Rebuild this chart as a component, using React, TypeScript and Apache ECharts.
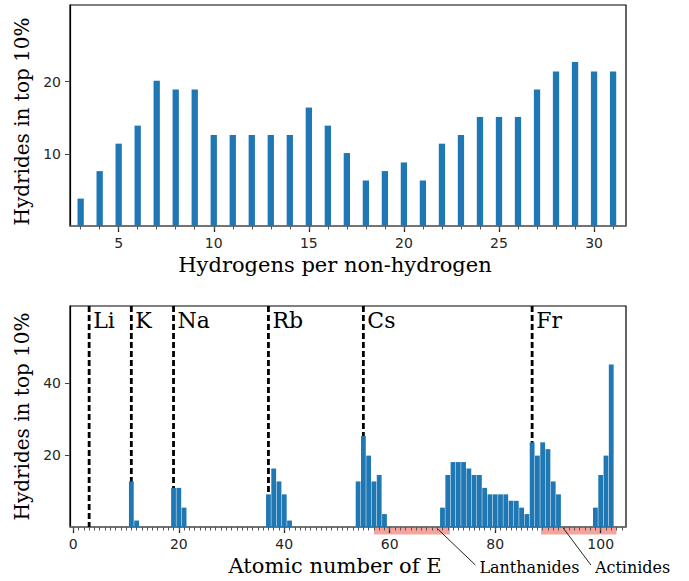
import React, { useEffect, useRef } from "react";
import * as echarts from "echarts";

// ---- Top panel data ----
const H_PER_NONH = [3, 4, 5, 6, 7, 8, 9, 10, 11, 12, 13, 14, 15, 16, 17, 18, 19, 20, 21, 22, 23, 24, 25, 26, 27, 28, 29, 30, 31];
const TOP_PCT = [3.8, 7.6, 11.4, 13.9, 20.1, 18.9, 18.9, 12.6, 12.6, 12.6, 12.6, 12.6, 16.4, 13.9, 10.1, 6.3, 7.6, 8.8, 6.3, 11.4, 12.6, 15.1, 15.1, 15.1, 18.9, 21.4, 22.7, 21.4, 21.4];
const TOP_X_LABELS = [5, 10, 15, 20, 25, 30];
const TOP_Y_LABELS = [10, 20];
const TOP_X_RANGE = [2.44, 31.68];
const TOP_Y_RANGE = [0, 30.6];

// ---- Bottom panel data ----
const ATOMIC_Z = [11, 12, 19, 20, 21, 37, 38, 39, 40, 41, 54, 55, 56, 57, 58, 59, 70, 71, 72, 73, 74, 75, 76, 77, 78, 79, 80, 81, 82, 83, 84, 85, 86, 87, 88, 89, 90, 91, 92, 99, 100, 101, 102];
const BOTTOM_PCT = [12.7, 1.8, 10.9, 10.9, 5.4, 9.1, 16.3, 12.7, 9.1, 1.8, 12.7, 25.4, 19.9, 12.7, 14.5, 3.6, 5.4, 14.5, 18.1, 18.1, 18.1, 16.3, 14.5, 14.5, 10.9, 9.1, 9.1, 9.1, 9.1, 7.3, 7.3, 5.4, 3.6, 23.6, 19.9, 23.6, 21.7, 12.7, 9.1, 5.4, 14.5, 19.9, 45.3];
const BOTTOM_X_LABELS = [0, 20, 40, 60, 80, 100];
const BOTTOM_Y_LABELS = [20, 40];
const BOTTOM_X_RANGE = [-0.63, 104.8];
const BOTTOM_Y_RANGE = [0, 61.6];

const ALKALI_Z = [3, 11, 19, 37, 55, 87];
const ALKALI_NAMES = ["Li", "K", "Na", "Rb", "Cs", "Fr"];

const BAND_NAMES = ["Lanthanides", "Actinides"];
const BAND_START = [57, 88.7];
const BAND_END = [71.4, 103];
const BAND_ARROW_FROM = [68.9, 92.9];
const BAND_TEXT_AT = [77.0, 98.9];

const range = (a: number, b: number) => {
  const r: number[] = [];
  for (let i = a; i <= b; i++) r.push(i);
  return r;
};

const TICK_FONT = "DejaVu Sans";
const SERIF = "DejaVu Serif";

function majorX(gridIndex: number, rng: number[], labels: number[], name: string) {
  return {
    type: "value",
    gridIndex,
    position: "bottom",
    min: rng[0],
    max: rng[1],
    splitLine: { show: false },
    axisLine: { show: true, onZero: false, lineStyle: { color: "#707070", width: 1.6 } },
    axisTick: { show: true, inside: false, length: 6, customValues: labels, lineStyle: { color: "#222", width: 1.3 } },
    axisLabel: { show: true, customValues: labels, margin: 10, fontFamily: TICK_FONT, fontSize: 14, color: "#262626" },
    name,
    nameLocation: "middle",
    nameGap: 28,
    nameTextStyle: { fontFamily: SERIF, fontSize: 21, color: "#000", padding: [0, 26, 0, 0] },
  };
}

function minorX(gridIndex: number, rng: number[], ticks: number[]) {
  return {
    type: "value",
    gridIndex,
    position: "bottom",
    min: rng[0],
    max: rng[1],
    splitLine: { show: false },
    axisLine: { show: false, onZero: false },
    axisTick: { show: true, inside: false, length: 3.5, customValues: ticks, lineStyle: { color: "#555", width: 1 } },
    axisLabel: { show: false },
  };
}

function yAx(gridIndex: number, rng: number[], labels: number[], padding: number[]) {
  return {
    type: "value",
    gridIndex,
    position: "left",
    min: rng[0],
    max: rng[1],
    splitLine: { show: false },
    axisLine: { show: true, onZero: false, lineStyle: { color: "#000", width: 1.2 } },
    axisTick: { show: true, inside: false, length: 5, customValues: labels, lineStyle: { color: "#444", width: 1 } },
    axisLabel: { show: true, customValues: labels, margin: 9, fontFamily: TICK_FONT, fontSize: 14, color: "#262626" },
    name: "Hydrides in top 10%",
    nameLocation: "middle",
    nameRotate: 90,
    nameGap: 36,
    nameTextStyle: { fontFamily: SERIF, fontSize: 20, color: "#000", padding },
  };
}

export default function App() {
  const ref = useRef<HTMLDivElement>(null);
  useEffect(() => {
    if (!ref.current) return;
    const chart = echarts.init(ref.current, undefined, { renderer: "svg" });
    const option: any = {
      animation: false,
      backgroundColor: "#fff",
      grid: [
        { left: 70, top: 5, width: 556, height: 221, show: true, borderColor: "#000", borderWidth: 1.2, backgroundColor: "transparent" },
        { left: 70, top: 306, width: 556, height: 221, show: true, borderColor: "#000", borderWidth: 1.2, backgroundColor: "transparent" },
      ],
      xAxis: [
        majorX(0, TOP_X_RANGE, TOP_X_LABELS, "Hydrogens per non-hydrogen"),
        minorX(0, TOP_X_RANGE, H_PER_NONH),
        majorX(1, BOTTOM_X_RANGE, BOTTOM_X_LABELS, "Atomic number of E"),
        minorX(1, BOTTOM_X_RANGE, range(0, 104)),
      ],
      yAxis: [yAx(0, TOP_Y_RANGE, TOP_Y_LABELS, [0, 12, 0, 0]), yAx(1, BOTTOM_Y_RANGE, BOTTOM_Y_LABELS, [0, 0, 0, 0])],
      series: [
        {
          type: "bar",
          xAxisIndex: 0,
          yAxisIndex: 0,
          barWidth: 6.3,
          itemStyle: { color: "#1f77b4" },
          data: H_PER_NONH.map((h, i) => [h, TOP_PCT[i]]),
          z: 3,
        },
        {
          type: "custom",
          xAxisIndex: 2,
          yAxisIndex: 1,
          z: 1,
          clip: false,
          data: ALKALI_Z.map((z) => [z, BOTTOM_Y_RANGE[1]]),
          renderItem: (params: any, api: any) => {
            const top = api.coord([api.value(0), BOTTOM_Y_RANGE[1]]);
            const bot = api.coord([api.value(0), BOTTOM_Y_RANGE[0]]);
            return {
              type: "group",
              children: [
                {
                  type: "line",
                  shape: { x1: top[0], y1: top[1], x2: bot[0], y2: bot[1] },
                  style: { stroke: "#000", lineWidth: 2.8, lineDash: [6, 3] },
                },
                {
                  type: "text",
                  x: top[0] + 4,
                  y: top[1] + 3,
                  style: {
                    text: ALKALI_NAMES[params.dataIndex],
                    fill: "#000",
                    fontFamily: SERIF,
                    fontSize: 22,
                    align: "left",
                    verticalAlign: "top",
                  },
                },
              ],
            };
          },
        },
        {
          type: "bar",
          xAxisIndex: 2,
          yAxisIndex: 1,
          barWidth: 4.8,
          itemStyle: { color: "#1f77b4" },
          data: ATOMIC_Z.map((z, i) => [z, BOTTOM_PCT[i]]),
          z: 3,
        },
        {
          type: "custom",
          xAxisIndex: 2,
          yAxisIndex: 1,
          z: -1,
          clip: false,
          data: BAND_NAMES.map((_, i) => [BAND_START[i], BAND_END[i], BAND_ARROW_FROM[i], BAND_TEXT_AT[i]]),
          renderItem: (params: any, api: any) => {
            const s = api.coord([api.value(0), 0]);
            const e = api.coord([api.value(1), 0]);
            const a = api.coord([api.value(2), 0]);
            const t = api.coord([api.value(3), 0]);
            const ty = s[1] + 40;
            return {
              type: "group",
              children: [
                {
                  type: "rect",
                  shape: { x: s[0], y: s[1] + 1, width: e[0] - s[0], height: 6.5 },
                  style: { fill: "#f4a49d" },
                },
                {
                  type: "line",
                  shape: { x1: a[0], y1: a[1] + 1, x2: t[0] - 4, y2: ty - 2 },
                  style: { stroke: "#222", lineWidth: 1 },
                },
                {
                  type: "text",
                  x: t[0],
                  y: ty,
                  style: {
                    text: BAND_NAMES[params.dataIndex],
                    fill: "#000",
                    fontFamily: SERIF,
                    fontSize: 16,
                    align: "left",
                    verticalAlign: "middle",
                  },
                },
              ],
            };
          },
        },
      ],
    };
    chart.setOption(option);
    return () => chart.dispose();
  }, []);
  return <div ref={ref} style={{ position: "fixed", left: 0, top: 0, width: 689, height: 581 }} />;
}
